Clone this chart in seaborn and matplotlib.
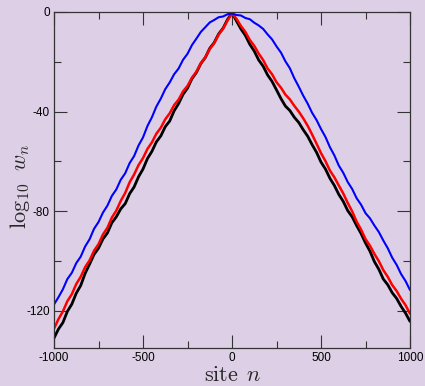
import matplotlib
matplotlib.use("Agg")
import matplotlib.pyplot as plt
from matplotlib.ticker import MultipleLocator
import numpy as np
import pandas as pd
import seaborn as sns

# site positions (every 25 sites)
sites = list(range(-1000, 1001, 25))

# log10 w_n
blue = [-117.5, -114.6, -111.4, -107.3, -104.8, -100.9, -98.3, -94.2, -91.3, -87.1,
        -84.4, -80.6, -77.8, -73.9, -71.3, -67.4, -64.8, -60.7, -57.9, -53.6,
        -50.4, -45.8, -42.3, -38.0, -34.8, -31.0, -28.3, -25.0, -22.7, -19.2,
        -16.8, -13.3, -10.7, -8.0, -6.1, -4.2, -3.2, -2.1, -1.8, -0.9,
        -0.6,
        -1.2, -1.4, -2.4, -2.9, -4.3, -5.4, -6.8, -9.0, -11.0, -13.8,
        -16.3, -19.8, -22.6, -26.6, -30.0, -33.6, -36.8, -40.5, -43.4, -47.0,
        -50.2, -54.3, -57.6, -61.7, -64.6, -68.3, -71.1, -74.8, -77.4, -80.8,
        -82.9, -85.8, -88.4, -91.8, -94.9, -98.7, -101.6, -105.3, -108.1, -111.7]

red = [-127.2, -123.4, -120.3, -116.2, -113.4, -109.3, -106.4, -102.5, -99.8, -95.9,
       -93.3, -89.4, -86.7, -82.6, -79.8, -75.9, -72.7, -68.4, -65.3, -61.5,
       -58.7, -55.0, -52.4, -48.9, -46.5, -43.1, -40.7, -37.4, -35.2, -31.9,
       -29.7, -26.4, -24.0, -20.6, -18.2, -14.9, -12.5, -9.1, -6.7, -3.4,
       -0.6,
       -2.7, -5.6, -8.0, -11.2, -13.6, -16.7, -19.3, -22.7, -25.0, -28.2,
       -30.4, -33.2, -35.1, -37.7, -40.0, -42.7, -45.7, -49.2, -52.9, -56.7,
       -59.9, -63.7, -66.4, -69.7, -72.9, -76.7, -80.1, -84.2, -87.4, -91.2,
       -93.9, -97.2, -100.1, -103.7, -106.4, -109.7, -112.1, -115.2, -117.8, -121.2]

black = [-131.0, -127.4, -124.8, -120.3, -117.4, -113.0, -109.9, -105.0, -101.3, -97.4,
         -94.9, -91.2, -88.8, -84.7, -82.3, -79.1, -77.0, -73.0, -70.3, -66.2,
         -63.1, -58.9, -56.0, -52.2, -49.8, -46.1, -43.8, -39.7, -36.8, -33.1,
         -30.6, -26.8, -24.3, -20.7, -18.3, -14.6, -12.3, -8.8, -6.5, -3.0,
         -0.3,
         -3.6, -6.8, -9.4, -13.0, -15.7, -19.3, -21.8, -25.3, -27.9, -31.3,
         -34.8, -37.8, -39.6, -42.3, -44.4, -47.3, -49.9, -53.3, -56.4, -60.3,
         -63.1, -66.8, -69.7, -73.3, -76.1, -79.8, -82.3, -85.8, -89.0, -92.8,
         -96.1, -100.3, -103.4, -107.3, -109.6, -112.8, -115.1, -118.3, -121.0, -124.3]

bg = "#ddd0e6"

sns.set_theme(style="ticks")
plt.rcParams["font.family"] = ["Liberation Sans", "DejaVu Sans"]
plt.rcParams["mathtext.fontset"] = "cm"
plt.rcParams["axes.unicode_minus"] = False

fig = plt.figure(figsize=(4.25, 3.86), dpi=100, facecolor=bg)
ax = fig.add_axes([54 / 425, 1 - 348 / 386, 356 / 425, 336 / 386])
ax.set_facecolor(bg)

df = pd.DataFrame({"n": sites, "blue": blue, "red": red, "black": black})

sns.lineplot(data=df, x="n", y="black", color="black", linewidth=2.0, ax=ax)
sns.lineplot(data=df, x="n", y="red", color="#ff0000", linewidth=1.8, ax=ax)
sns.lineplot(data=df, x="n", y="blue", color="#0000ff", linewidth=1.5, ax=ax)

ax.set_xlim(-1000, 1000)
ax.set_ylim(-135, 0)
ax.xaxis.set_major_locator(MultipleLocator(500))
ax.xaxis.set_minor_locator(MultipleLocator(250))
ax.yaxis.set_major_locator(MultipleLocator(40))
ax.yaxis.set_minor_locator(MultipleLocator(20))

ax.tick_params(which="both", direction="in", top=True, right=True,
               colors="#333333", labelcolor="black", labelsize=8.5, pad=3)
ax.tick_params(which="major", length=9.5, width=0.8)
ax.tick_params(which="minor", length=5, width=0.8)
for s in ax.spines.values():
    s.set_color("#333333")
    s.set_linewidth(0.9)

ax.set_xlabel(r"$\mathrm{site}\;\,n$", fontsize=16)
ax.set_ylabel(r"$\log_{10}\;\,w_n$", fontsize=16)
ax.xaxis.set_label_coords(0.5, -0.05)
ax.yaxis.set_label_coords(-0.062, 0.48)

fig.savefig("out.png", dpi=100, facecolor=bg)
